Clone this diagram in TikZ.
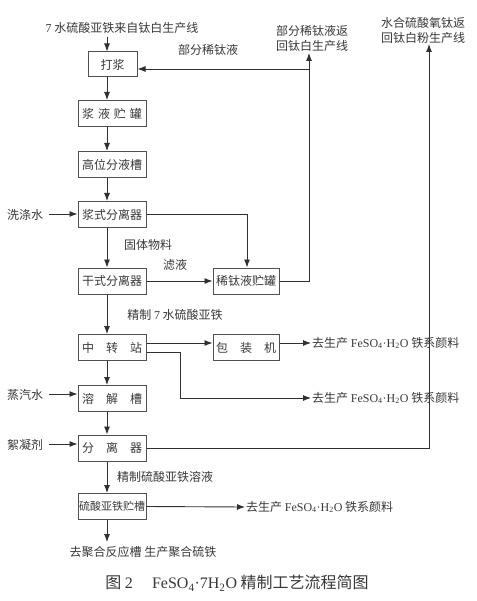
\documentclass[tikz,border=0pt]{standalone}
\usepackage{fontspec}
\setmainfont{Liberation Serif}
\newfontfamily\cjk{Noto Sans CJK SC}
\usetikzlibrary{arrows.meta,positioning,calc}
\definecolor{boxline}{HTML}{505050}
\definecolor{flowline}{HTML}{303030}
\definecolor{softtext}{HTML}{383838}
\newcommand{\feh}{{\rmfamily FeSO\textsubscript{4}·H\textsubscript{2}O}}

\begin{document}
\begin{tikzpicture}[x=1pt, y=-1pt,
  box/.style={draw=boxline, line width=1pt, minimum width=68pt, minimum height=26pt, inner sep=1pt, text=softtext, font=\cjk\fontsize{12}{14}\selectfont},
  txt/.style={inner sep=1pt, align=center, text=softtext, font=\cjk\fontsize{12}{15}\selectfont},
  arrow/.style={-{Latex[length=8pt,width=6pt]}, line width=0.9pt, draw=flowline},
  link/.style={line width=0.9pt, draw=flowline}
]
\useasboundingbox (0,0) rectangle (476,601);

% main column
\node[box, minimum width=49pt, minimum height=25pt] (dajiang) at (112.5,64.5) {打浆};
\node[box] (jiangye) at (112,113.5) {浆\hspace{0.33em}液\hspace{0.33em}贮\hspace{0.33em}罐};
\node[box] (gaowei) at (112,164.5) {高位分液槽};
\node[box] (jiangshi) at (112,214.5) {浆式分离器};
\node[box] (ganshi) at (112,281) {干式分离器};
\node[box, minimum width=66pt] (xitai) at (246,281) {稀钛液贮罐};
\node[box] (zhongzhuan) at (112,347.5) {中\hspace{1em}转\hspace{1em}站};
\node[box, minimum width=66pt] (baozhuang) at (246,347.5) {包\hspace{1em}装\hspace{1em}机};
\node[box] (rongjie) at (112,398.5) {溶\hspace{1em}解\hspace{1em}槽};
\node[box] (fenli) at (112,448) {分\hspace{1em}离\hspace{1em}器};
\node[box, font=\cjk\fontsize{11}{13}\selectfont] (liusuan) at (112,506.5) {硫酸亚铁贮槽};

% labels
\node[txt] (source) at (122,28) {{\rmfamily 7} 水硫酸亚铁来自钛白生产线};
\node[txt] (partxi) at (208,50) {部分稀钛液};
\node[txt] (backxi) at (312,38) {部分稀钛液返\\回钛白生产线};
\node[txt] (backti) at (423,30) {水合硫酸氧钛返\\回钛白粉生产线};
\node[txt] (xidi) at (25,215) {洗涤水};
\node[txt] (guti) at (148,245) {固体物料};
\node[txt] (lvye) at (175,265) {滤液};
\node[txt] (jingzhi) at (175,315) {精制 {\rmfamily 7} 水硫酸亚铁};
\node[txt, anchor=west] (out1) at (311,343) {去生产 \feh{} 铁系颜料};
\node[txt, anchor=west] (out2) at (311,398) {去生产 \feh{} 铁系颜料};
\node[txt] (zhengqi) at (25,395) {蒸汽水};
\node[txt] (xuning) at (25,445) {絮凝剂};
\node[txt] (rongye) at (165,477) {精制硫酸亚铁溶液};
\node[txt, anchor=west] (out3) at (245,507) {去生产 \feh{} 铁系颜料};
\node[txt] (juhe) at (143,552) {去聚合反应槽 生产聚合硫铁};
\node[txt, font=\cjk\fontsize{16}{18}\selectfont] (caption) at (237,583) {图 {\rmfamily 2}\hspace{1.2em}{\rmfamily FeSO\textsubscript{4}·7H\textsubscript{2}O} 精制工艺流程简图};

% main flow
\draw[arrow] (107,37) -- ([xshift=-5.5]dajiang.north);
\draw[arrow] ([xshift=-5.5]dajiang.south) -- ([xshift=-5]jiangye.north);
\draw[arrow] ([xshift=-5]jiangye.south) -- ([xshift=-5]gaowei.north);
\draw[arrow] ([xshift=-5]gaowei.south) -- ([xshift=-5]jiangshi.north);
\draw[arrow] ([xshift=-5]jiangshi.south) -- ([xshift=-5]ganshi.north);
\draw[arrow] ([xshift=-5]ganshi.south) -- ([xshift=-5]zhongzhuan.north);
\draw[arrow] ([xshift=-5]zhongzhuan.south) -- ([xshift=-5]rongjie.north);
\draw[arrow] ([xshift=-5]rongjie.south) -- ([xshift=-5]fenli.north);
\draw[arrow] ([xshift=-5]fenli.south) -- ([xshift=-5]liusuan.north);
\draw[arrow] ([xshift=-5]liusuan.south) -- (107,542);

% side inputs
\draw[arrow] (49,214) -- (jiangshi.west |- 0,214);
\draw[arrow] (49,394) -- (rongjie.west |- 0,394);
\draw[arrow] (49,444) -- (fenli.west |- 0,444);

% dilute titanium liquid
\draw[arrow] (jiangshi.east) -- (247,214.5) -- ([xshift=1]xitai.north);
\draw[arrow] (ganshi.east) -- (xitai.west);
\coordinate (rise) at (309,281);
\draw[arrow] (xitai.east) -- (rise) -- (309,53);
\draw[arrow] (309,69) -- (dajiang.east |- 0,69);

% outputs of the transfer station
\draw[arrow] (zhongzhuan.east |- 0,343) -- (baozhuang.west |- 0,343);
\draw[arrow] (baozhuang.east |- 0,343) -- (out1.west);
\draw[arrow] (zhongzhuan.east |- 0,352) -- (180,352) -- (180,398) -- (out2.west);

% separator return line and final products
\draw[arrow] (fenli.east) -- (429,448) -- (429,44);
\draw[arrow] (liusuan.east) -- (out3.west);
\end{tikzpicture}
\end{document}
